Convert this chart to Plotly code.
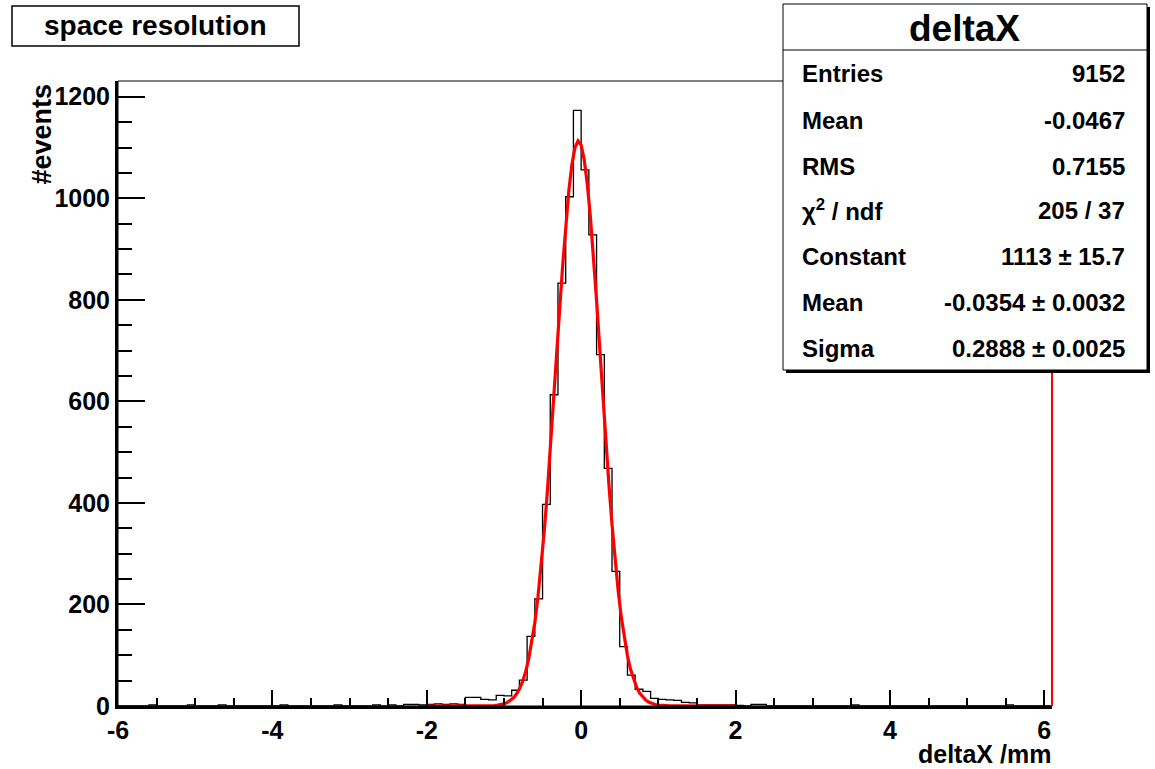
import numpy as np
import plotly.graph_objects as go

# histogram "deltaX": 0.1 wide bins between -6 and 6.1
x_min, x_max, bin_w = -6.0, 6.1, 0.1

# core of the distribution, bins starting at -2.0 up to 1.9
core_start = -2.0
core_counts = [3, 4, 3, 4, 3, 17, 17, 13, 12, 21,
               20, 31, 51, 137, 211, 397, 613, 833, 1003, 1173,
               1056, 928, 692, 468, 265, 117, 61, 33, 29, 15,
               13, 12, 11, 7, 6, 2, 2, 2, 2, 2]

# sparse tail entries (bin low edge, count)
tail_lo = [-5.6, -5.1, -4.7, -3.9, -3.2, -2.7, -2.5, -2.3, -2.2, -2.1,
           2.0, 2.2, 2.3, 3.5, 5.5]
tail_counts = [2, 2, 2, 2, 2, 2, 2, 3, 3, 2, 1, 3, 3, 2, 2]

# gaus fit result from the stats box
fit_const, fit_mean, fit_sigma = 1113, -0.0354, 0.2888
fit_range = [-2.0, 2.0]

stats_rows = [
    ("Entries", "9152"),
    ("Mean", "-0.0467"),
    ("RMS", "0.7155"),
    ("\u03c7<sup>2</sup> / ndf", "205 / 37"),
    ("Constant", "1113 \u00b1 15.7"),
    ("Mean", "-0.0354 \u00b1 0.0032"),
    ("Sigma", "0.2888 \u00b1 0.0025"),
]

x_ticks = [-6, -4, -2, 0, 2, 4, 6]
x_tick_text = ["-6", "-4", "-2", "0", "2", "4", "6"]
y_top = 1231

nbins = int(round((x_max - x_min) / bin_w))
counts = np.zeros(nbins)
for i, c in enumerate(core_counts):
    counts[int(round((core_start - x_min) / bin_w)) + i] = c
for lo, c in zip(tail_lo, tail_counts):
    counts[int(round((lo - x_min) / bin_w))] = c
edges = x_min + bin_w * np.arange(nbins + 1)

step_x = [edges[0]] + list(edges[:-1]) + [edges[-1], edges[-1]]
step_y = [0] + list(counts) + [counts[-1], 0]

xf = np.linspace(fit_range[0], fit_range[1], 101)
yf = fit_const * np.exp(-0.5 * ((xf - fit_mean) / fit_sigma) ** 2)

FONT = "Liberation Sans"
W, H = 1155, 769
L, T = 118, 81
R, B = W - 1052, H - 706
pw, ph = W - L - R, H - T - B


# screen pixel -> paper coords
def px(p):
    return (p - L) / pw


def py(p):
    return (H - B - p) / ph


fig = go.Figure()
fig.add_trace(go.Scatter(x=step_x, y=step_y, mode="lines", line_shape="hv",
                         line=dict(color="black", width=1.3), hoverinfo="skip"))
fig.add_trace(go.Scatter(x=xf, y=yf, mode="lines",
                         line=dict(color="red", width=3.2), hoverinfo="skip"))

axis_font = dict(family=FONT, size=25, color="black", weight="bold")
fig.update_xaxes(range=[x_min, x_max], showline=True, linewidth=3, linecolor="black",
                 ticks="inside", ticklen=16, tickwidth=2, tickcolor="black",
                 tickvals=x_ticks, ticktext=x_tick_text, tickfont=axis_font,
                 showgrid=False, zeroline=False,
                 minor=dict(dtick=0.5, tick0=-6, ticklen=8, tickwidth=2, tickcolor="black", ticks="inside"))
fig.update_yaxes(range=[0, y_top], showline=True, linewidth=3, linecolor="black",
                 ticks="inside", ticklen=27, tickwidth=2, tickcolor="black",
                 tick0=0, dtick=200, tickfont=axis_font, showgrid=False, zeroline=False,
                 ticklabelstandoff=0,
                 minor=dict(dtick=50, ticklen=14, tickwidth=2, tickcolor="black", ticks="inside"))

shapes = [
    # frame top/right
    dict(type="rect", xref="paper", yref="paper", x0=0, x1=1, y0=0, y1=1,
         line=dict(color="black", width=1), layer="above"),
    dict(type="line", xref="paper", yref="paper", x0=1, x1=1, y0=0, y1=1,
         line=dict(color="red", width=2), layer="above"),
    # title box
    dict(type="rect", xref="paper", yref="paper", x0=px(12), x1=px(299), y0=py(6), y1=py(46),
         line=dict(color="black", width=1.5), fillcolor="white", layer="above"),
    # stats box shadow + box
    dict(type="rect", xref="paper", yref="paper", x0=px(786), x1=px(1150), y0=py(7), y1=py(373),
         line=dict(width=0), fillcolor="black", layer="above"),
    dict(type="rect", xref="paper", yref="paper", x0=px(783), x1=px(1147), y0=py(4), y1=py(370),
         line=dict(color="black", width=1), fillcolor="white", layer="above"),
    dict(type="line", xref="paper", yref="paper", x0=px(783), x1=px(1147), y0=py(50), y1=py(50),
         line=dict(color="black", width=1), layer="above"),
]

ann = [
    dict(text="<b>space resolution</b>", x=px(155), y=py(25), xanchor="center", yanchor="middle",
         font=dict(family=FONT, size=28, color="black")),
    dict(text="<b>deltaX</b>", x=px(964), y=py(28), xanchor="center", yanchor="middle",
         font=dict(family=FONT, size=37, color="black")),
    dict(text="<b>#events</b>", x=px(41), y=py(82), xanchor="center", yanchor="top",
         textangle=-90, font=dict(family=FONT, size=27, color="black")),
    dict(text="<b>deltaX /mm</b>", x=px(1053), y=py(754), xanchor="right", yanchor="middle",
         font=dict(family=FONT, size=25, color="black")),
]
row_y = [74, 120, 166, 210, 256, 302, 348]
for (lab, val), yy in zip(stats_rows, row_y):
    ann.append(dict(text="<b>" + lab + "</b>", x=px(800), y=py(yy), xanchor="left", yanchor="middle",
                    font=dict(family=FONT, size=24, color="black")))
    ann.append(dict(text="<b>" + val + "</b>", x=px(1127), y=py(yy), xanchor="right", yanchor="middle",
                    font=dict(family=FONT, size=24, color="black")))
for a in ann:
    a.update(xref="paper", yref="paper", showarrow=False)

fig.update_layout(width=W, height=H, margin=dict(l=L, r=R, t=T, b=B),
                  plot_bgcolor="white", paper_bgcolor="white", showlegend=False,
                  font=dict(family=FONT, color="black"),
                  shapes=shapes, annotations=ann)

# drop the default body margin so the figure sits at the page corner
fig.write_html("out.html", config={"displayModeBar": False},
               post_script="document.body.style.margin='0px';")
